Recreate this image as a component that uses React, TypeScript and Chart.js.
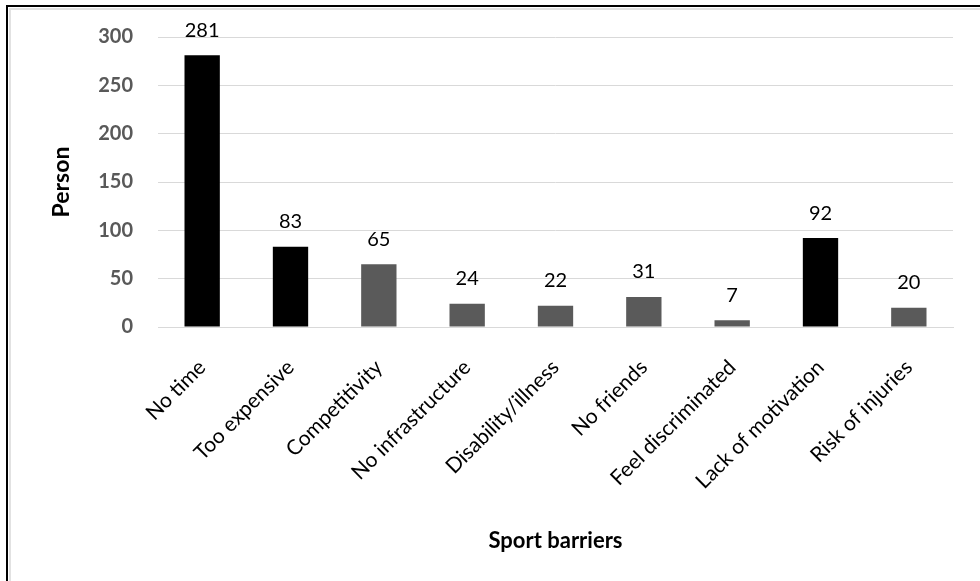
import { useEffect, useRef } from "react";
import { Chart, registerables } from "chart.js";

Chart.register(...registerables);

// Reported barriers to doing sport and how many people named each one
const categories = [
  "No time",
  "Too expensive",
  "Competitivity",
  "No infrastructure",
  "Disability/illness",
  "No friends",
  "Feel discriminated",
  "Lack of motivation",
  "Risk of injuries",
];
const persons = [281, 83, 65, 24, 22, 31, 7, 92, 20];
// The most frequent barriers are drawn in black, the rest in grey
const mainBarriers = ["No time", "Too expensive", "Lack of motivation"];
const yTicks = [0, 50, 100, 150, 200, 250, 300];

const FONT = "Lato, Calibri, 'Open Sans', sans-serif";

const valueLabels = {
  id: "valueLabels",
  afterDatasetsDraw(chart: any) {
    const { ctx } = chart;
    const meta = chart.getDatasetMeta(0);
    ctx.save();
    ctx.font = `20px ${FONT}`;
    ctx.fillStyle = "#000000";
    ctx.textAlign = "center";
    ctx.textBaseline = "middle";
    meta.data.forEach((bar: any, i: number) => {
      ctx.fillText(String(persons[i]), bar.x, bar.y - 25);
    });
    ctx.restore();
  },
};

export default function App() {
  const canvasRef = useRef<HTMLCanvasElement | null>(null);

  useEffect(() => {
    if (!canvasRef.current) return;
    const chart = new Chart(canvasRef.current, {
      type: "bar",
      data: {
        labels: categories,
        datasets: [
          {
            data: persons,
            backgroundColor: categories.map((c) =>
              mainBarriers.includes(c) ? "#000000" : "#5a5a5a"
            ),
            borderWidth: 0,
            barPercentage: 0.4,
            categoryPercentage: 1,
          },
        ],
      },
      options: {
        animation: false,
        responsive: false,
        devicePixelRatio: 1,
        layout: { padding: { left: 0, right: 27, top: 36, bottom: 27 } },
        plugins: {
          legend: { display: false },
          tooltip: { enabled: false },
        },
        scales: {
          x: {
            grid: { display: false },
            border: { display: true, color: "#d9d9d9", width: 1 },
            ticks: {
              color: "#000000",
              font: { family: FONT, size: 21 },
              minRotation: 45,
              maxRotation: 45,
              padding: 20,
              autoSkip: false,
            },
            title: {
              display: true,
              text: "Sport barriers",
              color: "#000000",
              font: { family: FONT, size: 22, weight: "bold" },
              padding: { top: 0, bottom: 0 },
            },
            afterFit: (scale: any) => {
              scale.height = 227;
            },
          },
          y: {
            min: 0,
            max: 300,
            afterBuildTicks: (scale: any) => {
              scale.ticks = yTicks.map((v) => ({ value: v }));
            },
            grid: { color: "#d9d9d9", lineWidth: 1, drawTicks: false },
            border: { display: false },
            ticks: {
              color: "#595959",
              font: { family: FONT, size: 20, weight: "bold" },
              padding: 25,
            },
            title: {
              display: true,
              text: "Person",
              color: "#000000",
              font: { family: FONT, size: 23, weight: "bold" },
              padding: { top: 48, bottom: 0 },
            },
            afterFit: (scale: any) => {
              scale.width = 158;
            },
          },
        },
      },
      plugins: [valueLabels],
    });
    return () => chart.destroy();
  }, []);

  return (
    <div
      style={{
        position: "absolute",
        left: 0,
        top: 0,
        width: 980,
        height: 581,
        background: "#ffffff",
        overflow: "hidden",
      }}
    >
      <div
        style={{
          position: "absolute",
          left: 6,
          top: 5,
          width: 980,
          height: 581,
          borderTop: "2px solid #000000",
          borderLeft: "2px solid #000000",
        }}
      />
      <div
        style={{
          position: "absolute",
          left: 9,
          top: 8,
          width: 980,
          height: 581,
          borderTop: "2px solid #e2e2e2",
          borderLeft: "2px solid #e2e2e2",
        }}
      />
      <canvas
        ref={canvasRef}
        width={980}
        height={581}
        style={{ position: "absolute", left: 0, top: 0 }}
      />
    </div>
  );
}
